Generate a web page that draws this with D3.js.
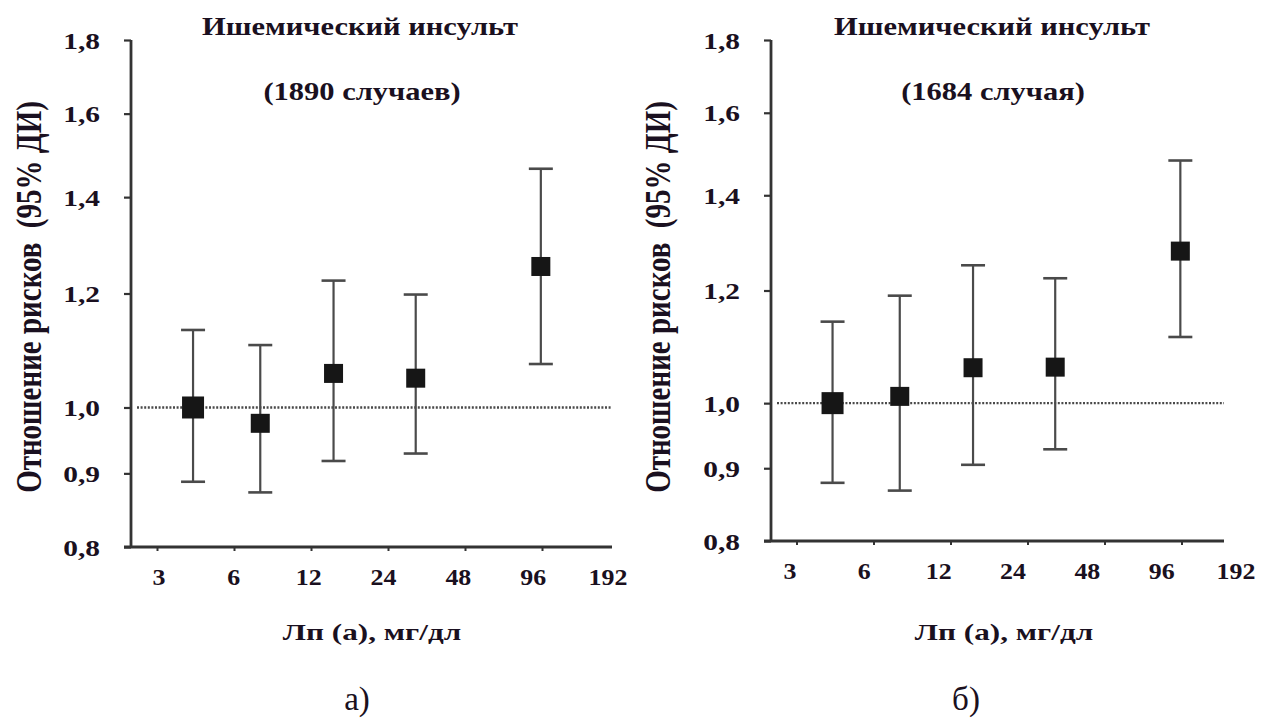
<!DOCTYPE html>
<html><head><meta charset="utf-8">
<script src="https://cdn.jsdelivr.net/npm/d3@7"></script>
<style>
html,body{margin:0;padding:0;background:#fff;}
svg{display:block;}
svg text{font-family:"Liberation Serif","Times New Roman",serif !important;fill:#1a1020;}
</style></head>
<body>
<svg id="chart" width="1264" height="720"></svg>
<script>
// ---- data ----
const titleText = "Ишемический инсульт";
const subtitles = ["(1890 случаев)", "(1684 случая)"];
const panelLabels = ["а)", "б)"];
const xAxisTitle = "Лп (а), мг/дл";
const yAxisTitle = "Отношение рисков  (95% ДИ)";
const xTickValues = [3, 6, 12, 24, 48, 96];
const xTickLabels = ["3", "6", "12", "24", "48", "96", "192"];
const yTickValues = [0.8, 0.9, 1.0, 1.2, 1.4, 1.6, 1.8];
const lpa = [4.15, 7.6, 14.7, 30.8, 95];           // Lp(a), mg/dl (group midpoints)
const hrA = [1.00, 0.975, 1.056, 1.048, 1.253];
const loA = [0.888, 0.873, 0.918, 0.929, 1.072];
const hiA = [1.132, 1.105, 1.225, 1.198, 1.465];
const hrB = [1.00, 1.011, 1.059, 1.060, 1.279];
const loB = [0.879, 0.868, 0.905, 0.928, 1.113];
const hiB = [1.141, 1.190, 1.250, 1.224, 1.481];

const svg = d3.select("#chart");
const SX = 1.22;   // horizontal stretch of the original figure's lettering

function stretchedText(g, x, y, str, opts) {
  const sx = opts.sx || SX;
  return g.append("text")
    .attr("transform", `translate(${x},${y}) scale(${sx},1)`)
    .attr("text-anchor", opts.anchor || "middle")
    .style("font-size", opts.size + "px")
    .style("font-weight", opts.weight || "bold")
    .attr("xml:space", "preserve")
    .text(str);
}

const panels = [
  {hr: hrA, lo: loA, hi: hiA, sub: subtitles[0], lab: panelLabels[0],
   ax: 131, xEnd: 612, t3: 157, t96: 542, yTop: 40, yBot: 547,
   lab0: 159, lab1: 608, titleX: 360, subX: 362, xtX: 372, panX: 357, ylX: 41},
  {hr: hrB, lo: loB, hi: hiB, sub: subtitles[1], lab: panelLabels[1],
   ax: 771, xEnd: 1224, t3: 796.5, t96: 1181.5, yTop: 40, yBot: 541,
   lab0: 790, lab1: 1236, titleX: 992, subX: 993, xtX: 1004, panX: 966, ylX: 670}
];

panels.forEach(p => {
  const g = svg.append("g");
  const x = d3.scaleLog().base(2).domain([3, 96]).range([p.t3, p.t96]);
  const y = d3.scaleLog().domain([0.8, 1.8]).range([p.yBot, p.yTop]);
  const xLab = d3.scalePoint().domain(xTickLabels).range([p.lab0, p.lab1]);

  // reference line at HR = 1.0
  g.append("line")
    .attr("x1", p.ax + 6).attr("x2", p.xEnd)
    .attr("y1", y(1)).attr("y2", y(1))
    .attr("stroke", "#4a4a4a").attr("stroke-width", 2.4)
    .attr("stroke-dasharray", "2,1.6");

  // y axis
  const yAxis = g.append("g")
    .attr("transform", `translate(${p.ax},0)`)
    .call(d3.axisLeft(y).tickValues(yTickValues).tickSize(7).tickSizeOuter(0)
      .tickFormat(d => d3.format(".1f")(d).replace(".", ",")));
  yAxis.attr("font-family", null).attr("font-size", null);
  yAxis.select(".domain").attr("stroke", "#333").attr("stroke-width", 2.8)
    .attr("d", `M0,${p.yTop}V${p.yBot}`);
  yAxis.selectAll(".tick line").attr("stroke", "#333").attr("stroke-width", 2.2);
  yAxis.selectAll(".tick text")
    .attr("x", 0).attr("dy", "0.35em")
    .attr("transform", `translate(-31,0) scale(1.28,1)`)
    .style("font-size", "23px").style("font-weight", "bold").attr("fill", "#1a1020");

  // x axis
  const xAxis = g.append("g")
    .attr("transform", `translate(0,${p.yBot})`)
    .call(d3.axisBottom(x).tickValues(xTickValues).tickSize(4).tickSizeOuter(0).tickFormat(""));
  xAxis.select(".domain").attr("stroke", "#333").attr("stroke-width", 2.8)
    .attr("d", `M${p.ax - 7},0H${p.xEnd}`);
  xAxis.selectAll(".tick line").attr("stroke", "#333").attr("stroke-width", 2);

  // x tick labels
  xTickLabels.forEach(l => {
    stretchedText(g, xLab(l), p.yBot + 38, l, {size: 24, sx: 1.08});
  });

  // error bars + squares
  const pts = p.hr.map((v, i) => ({x: lpa[i], hr: v, lo: p.lo[i], hi: p.hi[i], i}));
  const eb = g.selectAll(".eb").data(pts).enter().append("g");
  eb.append("line")
    .attr("x1", d => x(d.x)).attr("x2", d => x(d.x))
    .attr("y1", d => y(d.hi)).attr("y2", d => y(d.lo))
    .attr("stroke", "#4a4a4a").attr("stroke-width", 2.2);
  ["hi", "lo"].forEach(k => {
    eb.append("line")
      .attr("x1", d => x(d.x) - 12).attr("x2", d => x(d.x) + 12)
      .attr("y1", d => y(d[k])).attr("y2", d => y(d[k]))
      .attr("stroke", "#4a4a4a").attr("stroke-width", 2.6);
  });
  eb.append("rect")
    .attr("x", d => x(d.x) - (d.i === 0 ? 11 : 9.5))
    .attr("y", d => y(d.hr) - (d.i === 0 ? 11 : 9.5))
    .attr("width", d => d.i === 0 ? 22 : 19)
    .attr("height", d => d.i === 0 ? 22 : 19)
    .attr("fill", "#161616");

  // titles
  stretchedText(g, p.titleX, 35, titleText, {size: 25});
  stretchedText(g, p.subX, 100, p.sub, {size: 25});
  stretchedText(g, p.xtX, 640, xAxisTitle, {size: 24, sx: 1.3});

  // y axis title
  g.append("text")
    .attr("transform", `translate(${p.ylX},297) scale(${SX},1) rotate(-90)`)
    .attr("text-anchor", "middle")
    .attr("xml:space", "preserve")
    .style("font-size", "29px").style("font-weight", "bold")
    .text(yAxisTitle);

  // panel label
  stretchedText(g, p.panX, 710, p.lab, {size: 33, weight: "normal", sx: 1.0});
});
</script>
</body></html>
